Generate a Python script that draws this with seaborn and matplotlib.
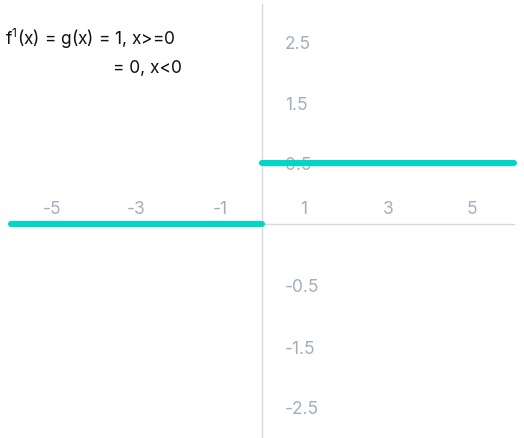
import matplotlib
matplotlib.use("Agg")
import matplotlib.pyplot as plt
import seaborn as sns
import pandas as pd

# data
seg_x = [-6, 0, 0, 6]
seg_y = [0, 0, 1, 1]
seg_id = ["neg", "neg", "pos", "pos"]
xtick_vals = [-5, -3, -1, 1, 3, 5]
xtick_labels = ["-5", "-3", "-1", "1", "3", "5"]
ytick_vals = [3, 2, 1, -1, -2, -3]
ytick_labels = ["2.5", "1.5", "0.5", "-0.5", "-1.5", "-2.5"]

sns.set_theme(style="white")
plt.rcParams["font.family"] = ["Inter", "DejaVu Sans"]
plt.rcParams["mathtext.fontset"] = "custom"
plt.rcParams["mathtext.rm"] = "Inter"
plt.rcParams["mathtext.it"] = "Inter"
plt.rcParams["mathtext.default"] = "rm"

fig = plt.figure(figsize=(5.24, 4.39), dpi=100)
ax = fig.add_axes([10.5/524, 1/439, 503/524, 433/439])

df = pd.DataFrame({"x": seg_x, "y": seg_y, "seg": seg_id})
sns.lineplot(data=df, x="x", y="y", units="seg", estimator=None, ax=ax,
             color="#00d6c6", linewidth=4.4, solid_capstyle="round",
             zorder=5, clip_on=False, legend=False)

ax.set_xlim(-6, 6)
ax.set_ylim(-213/61, 220/61)
ax.set_xlabel("")
ax.set_ylabel("")

for s in ["top", "right"]:
    ax.spines[s].set_visible(False)
for s in ["left", "bottom"]:
    ax.spines[s].set_position(("data", 0))
    ax.spines[s].set_color("#d3d9e4")
    ax.spines[s].set_linewidth(1.0)

ax.set_xticks(xtick_vals, labels=xtick_labels)
ax.set_yticks(ytick_vals, labels=ytick_labels)
ax.tick_params(axis="both", length=0, labelsize=12.5, labelcolor="#a3adc2")
ax.tick_params(axis="x", pad=-8)
ax.tick_params(axis="y", pad=-16.5)
for lab in ax.get_xticklabels():
    lab.set_va("baseline")
for lab in ax.get_yticklabels():
    lab.set_ha("left")

fig.text(5/524, 1 - 39/439, "f$^{1}$(x) = g(x) = 1, x>=0", ha="left", va="center",
         fontsize=12.5, color="#111111")
fig.text(182/524, 1 - 68/439, "= 0, x<0", ha="right", va="center",
         fontsize=12.5, color="#111111")

fig.savefig("out.png", dpi=100)
